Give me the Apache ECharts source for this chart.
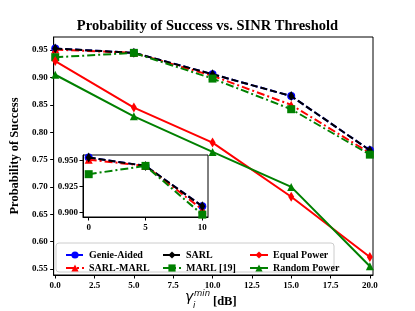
<!DOCTYPE html>
<html><head><meta charset="utf-8">
<script src="https://cdn.jsdelivr.net/npm/echarts@6/dist/echarts.min.js"></script>
<style>html,body{margin:0;padding:0;background:#fff}#c{width:415px;height:311px}</style>
</head><body><div id="c"></div>
<script>
const thresholds = [0, 5, 10, 15, 20];
const genieAided = [0.953, 0.945, 0.906, 0.866, 0.767];
const sarl       = [0.953, 0.945, 0.906, 0.866, 0.767];
const sarlMarl   = [0.951, 0.945, 0.903, 0.850, 0.762];
const marl       = [0.937, 0.945, 0.898, 0.842, 0.759];
const equalPower = [0.930, 0.845, 0.781, 0.682, 0.572];
const randomPower= [0.905, 0.829, 0.764, 0.700, 0.555];
const insetCount = 3;
const xTicks = [0, 2.5, 5, 7.5, 10, 12.5, 15, 17.5, 20];
const yTicks = [0.55, 0.60, 0.65, 0.70, 0.75, 0.80, 0.85, 0.90, 0.95];
const insetXTicks = [0, 5, 10];
const insetYTicks = [0.900, 0.925, 0.950];

const SERIF = '"Liberation Serif", "DejaVu Serif", serif';
const pairs = (ys, n) => thresholds.slice(0, n || ys.length).map((x, i) => [x, ys[i]]);
const DASH = [7, 3];
const DASHDOT = [8, 3, 2, 3];

const specs = [
  {name:'Genie-Aided', data:genieAided, color:'#0000ff', symbol:'circle', size:8, type:DASH},
  {name:'SARL-MARL', data:sarlMarl, color:'#ff0000', symbol:'triangle', size:8, type:DASHDOT},
  {name:'SARL', data:sarl, color:'#000000', symbol:'diamond', size:[6,10], type:DASH},
  {name:'MARL [19]', data:marl, color:'#008000', symbol:'rect', size:8, type:DASHDOT},
  {name:'Equal Power', data:equalPower, color:'#ff0000', symbol:'diamond', size:[6,10], type:'solid'},
  {name:'Random Power', data:randomPower, color:'#008000', symbol:'triangle', size:8, type:'solid'}
];

const series = [];
specs.forEach((s, k) => {
  series.push({
    name: s.name, type:'line', xAxisIndex:0, yAxisIndex:0,
    data: pairs(s.data), symbol: s.symbol, symbolSize: s.size, showSymbol:true,
    itemStyle:{color:s.color}, lineStyle:{color:s.color, width:2, type:s.type},
    z: 2 + k*0.1, animation:false
  });
  if (k < 4) {
    series.push({
      name: s.name, type:'line', xAxisIndex:1, yAxisIndex:1,
      data: pairs(s.data, insetCount), symbol: s.symbol, symbolSize: s.size,
      itemStyle:{color:s.color}, lineStyle:{color:s.color, width:2, type:s.type},
      z: 10 + k*0.1, animation:false, clip:true
    });
  }
});

const tickLabel = {fontFamily:SERIF, fontWeight:'bold', fontSize:9, color:'#000'};
const legendBase = {
  orient:'vertical', itemWidth:18, itemHeight:9, itemGap:3, z:20,
  textStyle:{fontFamily:SERIF, fontWeight:'bold', fontSize:10, color:'#000'},
  selectedMode:false, top:245
};

const chart = echarts.init(document.getElementById('c'), null, {renderer:'canvas'});
chart.setOption({
  animation:false,
  backgroundColor:'#fff',
  title:{text:'Probability of Success vs. SINR Threshold', left:'center', top:14,
    textStyle:{fontFamily:SERIF, fontWeight:'bold', fontSize:14.5, color:'#000'}},
  grid:[
    {left:52, top:37, right:42, bottom:36, show:true, borderColor:'#000', borderWidth:1, backgroundColor:'#fff', containLabel:false},
    {left:83, top:155, width:125, height:62, show:true, borderColor:'#000', borderWidth:1, backgroundColor:'#fff', z:8}
  ],
  xAxis:[
    {type:'value', gridIndex:0, min:-0.1, max:20.2,
      axisLine:{show:true, onZero:false, lineStyle:{color:'#000'}},
      axisTick:{show:true, length:3.5, customValues:xTicks, lineStyle:{color:'#000'}},
      axisLabel:{...tickLabel, margin:6, customValues:xTicks, formatter:v=>v.toFixed(1)},
      splitLine:{show:false}},
    {type:'value', gridIndex:1, min:-0.5, max:10.5, z:9,
      axisLine:{show:true, onZero:false, lineStyle:{color:'#000'}},
      axisTick:{show:true, length:3.5, customValues:insetXTicks, lineStyle:{color:'#000'}},
      axisLabel:{...tickLabel, margin:6, customValues:insetXTicks, formatter:v=>String(v)},
      splitLine:{show:false}}
  ],
  yAxis:[
    {type:'value', gridIndex:0, min:0.539, max:0.974,
      axisLine:{show:true, onZero:false, lineStyle:{color:'#000'}},
      axisTick:{show:true, length:3.5, customValues:yTicks, lineStyle:{color:'#000'}},
      axisLabel:{...tickLabel, margin:6, customValues:yTicks, formatter:v=>v.toFixed(2)},
      splitLine:{show:false},
      name:'Probability of Success', nameLocation:'middle', nameGap:24,
      nameTextStyle:{fontFamily:SERIF, fontWeight:'bold', fontSize:12.5, color:'#000'}},
    {type:'value', gridIndex:1, min:0.8957, max:0.9555, z:9,
      axisLine:{show:true, onZero:false, lineStyle:{color:'#000'}},
      axisTick:{show:true, length:3.5, customValues:insetYTicks, lineStyle:{color:'#000'}},
      axisLabel:{...tickLabel, margin:5, customValues:insetYTicks, formatter:v=>v.toFixed(3)},
      splitLine:{show:false}}
  ],
  legend:[
    {...legendBase, left:60, data:['Genie-Aided','SARL-MARL']},
    {...legendBase, left:157, data:['SARL','MARL [19]']},
    {...legendBase, left:244, data:['Equal Power','Random Power']}
  ],
  graphic:[
    {type:'rect', z:15, shape:{x:56, y:243, width:278, height:29, r:3},
      style:{fill:'rgba(255,255,255,0.85)', stroke:'#cccccc', lineWidth:1}},
    {type:'text', z:20, left:185, top:290, style:{text:'γ', font:'italic 14px "DejaVu Sans"', fill:'#000'}},
    {type:'text', z:20, left:193, top:301, style:{text:'i', font:'italic 8.5px "DejaVu Sans"', fill:'#000'}},
    {type:'text', z:20, left:194, top:289, style:{text:'min', font:'italic 8.5px "DejaVu Sans"', fill:'#000'}},
    {type:'text', z:20, left:213, top:295, style:{text:'[dB]', font:'bold 12.5px "Liberation Serif"', fill:'#000'}}
  ],
  series: series
});
</script></body></html>
